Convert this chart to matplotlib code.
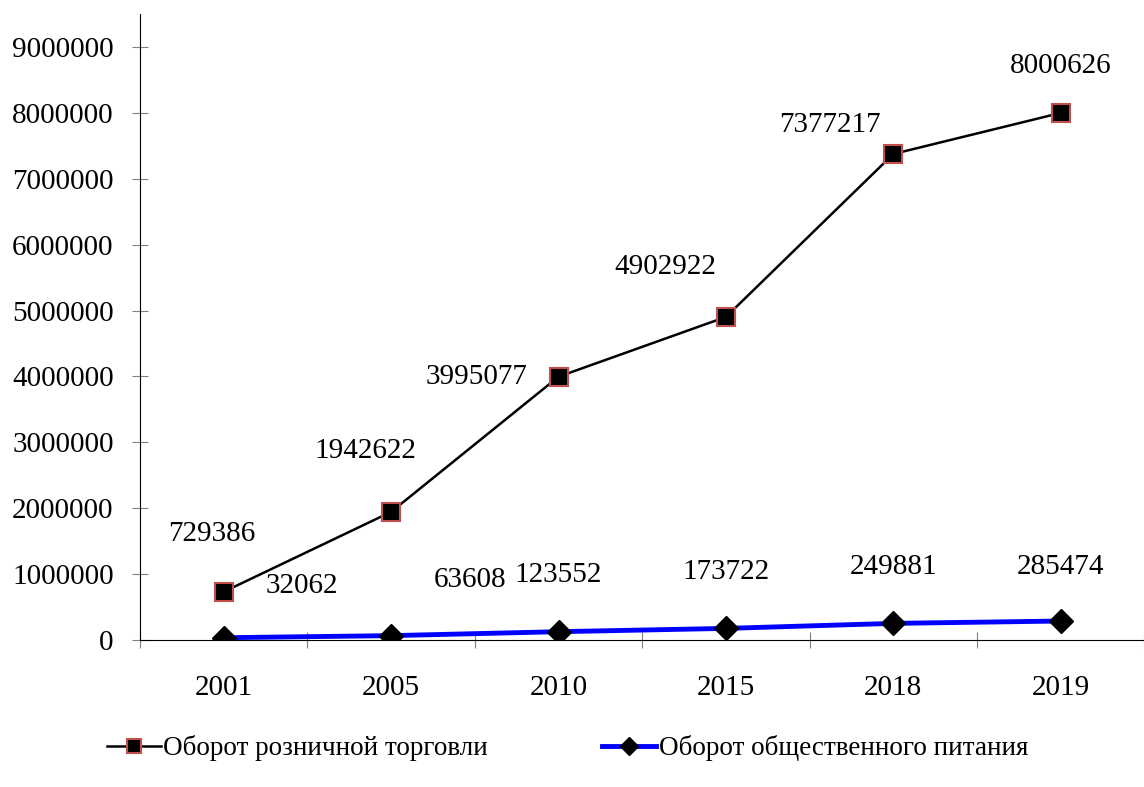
import matplotlib.pyplot as plt
import numpy as np

# Данные
years = ["2001", "2005", "2010", "2015", "2018", "2019"]
retail = [729386, 1942622, 3995077, 4902922, 7377217, 8000626]
catering = [32062, 63608, 123552, 173722, 249881, 285474]

# смещения подписей (в пикселях)
retail_offsets = [(-12, 58), (-26, 61), (-82, 0), (-61, 50), (-63, 29), (0, 47)]
catering_offsets = [(78, 52), (79, 56), (0, 57), (0, 56), (0, 56), (0, 54)]

plt.rcParams['font.family'] = ['Liberation Serif', 'DejaVu Serif']
plt.rcParams['font.size'] = 21

fig = plt.figure(figsize=(11.44, 7.87), dpi=100)
ax = fig.add_axes([0.1224, 0.187, 0.878, 0.795])

x = np.arange(len(years))
ax.plot(x, retail, color='black', lw=1.8, marker='s', markersize=13,
        markerfacecolor='black', markeredgecolor='#c0504d', markeredgewidth=1.5,
        label='Оборот розничной торговли', zorder=3)
ax.plot(x, catering, color='#0000ff', lw=3.5, marker='D', markersize=12,
        markerfacecolor='black', markeredgecolor='black',
        label='Оборот общественного питания', zorder=3)

for xi, v, off in zip(x, retail, retail_offsets):
    ax.annotate(str(v), (xi, v), xytext=off, textcoords='offset pixels',
                ha='center', va='center')
for xi, v, off in zip(x, catering, catering_offsets):
    ax.annotate(str(v), (xi, v), xytext=off, textcoords='offset pixels',
                ha='center', va='center')

ax.set_xlim(-0.5, len(years) - 0.5)
ax.set_ylim(0, 9500000)
ax.set_yticks(np.arange(0, 9000001, 1000000))
ax.set_yticklabels([str(v) for v in range(0, 9000001, 1000000)])
ax.tick_params(axis='y', direction='inout', length=12, color='gray', pad=13)

ax.set_xticks(np.arange(-0.5, len(years), 1))
ax.set_xticklabels([])
ax.set_xticks(x, minor=True)
ax.set_xticklabels(years, minor=True)
ax.tick_params(axis='x', which='major', direction='inout', length=12, color='gray')
ax.tick_params(axis='x', which='minor', length=0, pad=25)

ax.spines['top'].set_visible(False)
ax.spines['right'].set_visible(False)
ax.spines['left'].set_color('black')
ax.spines['bottom'].set_color('black')

fig.legend(loc='center', bbox_to_anchor=(0.496, 0.049), ncol=2, frameon=False,
           fontsize=19.5, handlelength=2.0, handletextpad=0.1, columnspacing=4.2,
           markerscale=0.8)

fig.savefig('out.png', dpi=100)
